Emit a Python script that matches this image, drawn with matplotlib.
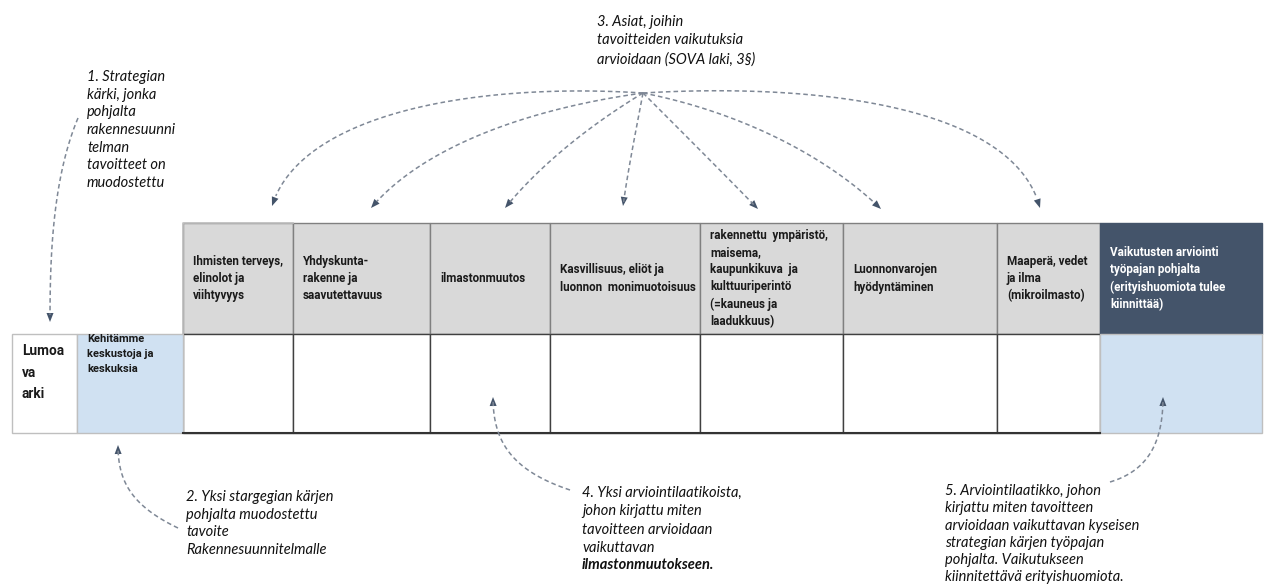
import matplotlib.pyplot as plt
from matplotlib.patches import Rectangle, Polygon
import numpy as np
from math import comb

# --- content ---
header_labels = [
    "Ihmisten terveys,\nelinolot ja\nviihtyvyys",
    "Yhdyskunta-\nrakenne ja\nsaavutettavuus",
    "ilmastonmuutos",
    "Kasvillisuus, eliöt ja\nluonnon  monimuotoisuus",
    "rakennettu  ympäristö,\nmaisema,\nkaupunkikuva  ja\nkulttuuriperintö\n(=kauneus ja\nlaadukkuus)",
    "Luonnonvarojen\nhyödyntäminen",
    "Maaperä, vedet\nja ilma\n(mikroilmasto)",
    "Vaikutusten arviointi\ntyöpajan pohjalta\n(erityishuomiota tulee\nkiinnittää)",
]
col_edges = [183, 293, 430, 550, 700, 843, 997, 1100, 1262]
left_edges = [12, 77, 183]
strategy_label = "Lumoa\nva\narki"
goal_label = "Kehitämme\nkeskustoja ja\nkeskuksia"

note1 = "1. Strategian\nkärki, jonka\npohjalta\nrakennesuunni\ntelman\ntavoitteet on\nmuodostettu"
note2 = "2. Yksi stargegian kärjen\npohjalta muodostettu\ntavoite\nRakennesuunnitelmalle"
note3 = "3. Asiat, joihin\ntavoitteiden vaikutuksia\narvioidaan (SOVA laki, 3§)"
note4 = "4. Yksi arviointilaatikoista,\njohon kirjattu miten\ntavoitteen arvioidaan\nvaikuttavan"
note4_bold = "ilmastonmuutokseen."
note5 = ("5. Arviointilaatikko, johon\nkirjattu miten tavoitteen\narvioidaan vaikuttavan kyseisen\n"
         "strategian kärjen työpajan\npohjalta. Vaikutukseen\nkiinnitettävä erityishuomiota.")

# fan of arrows from note 3 to the header columns
fan_start = (643, 93)
fan_ends = [(272, 206), (371, 208), (505, 208), (623, 206), (758, 209), (881, 209), (1040, 208)]
fan_ctrl = [[(470, 82), (300, 115)], [(520, 110), (420, 150)], [(590, 125), (540, 165)],
            [(636, 130), (628, 170)], [(680, 130), (720, 170)], [(730, 110), (820, 150)],
            [(830, 82), (1015, 110)]]

top, mid, bottom = 223, 334, 433
gray = "#d9d9d9"
navy = "#44546a"
light_blue = "#d0e1f2"
line_col = "#7f8896"

hdr_font = ["Roboto", "DejaVu Sans"]
note_font = ["Lato", "DejaVu Sans"]

fig = plt.figure(figsize=(12.64, 5.87), dpi=100)
ax = fig.add_axes([0, 0, 1, 1])
ax.set_xlim(0, 1264)
ax.set_ylim(587, 0)
ax.set_axis_off()

# header row + body row
for i, lab in enumerate(header_labels):
    x0, x1 = col_edges[i], col_edges[i + 1]
    last = i == len(header_labels) - 1
    ax.add_patch(Rectangle((x0, top), x1 - x0, mid - top,
                           facecolor=navy if last else gray,
                           edgecolor=navy if last else "#808080", lw=1))
    ax.text(x0 + 10, (top + mid) / 2, lab, ha="left", va="center",
            fontsize=8.4, fontweight="bold", family=hdr_font, linespacing=1.42,
            color="white" if last else "#1a1a1a")
    ax.add_patch(Rectangle((x0, mid), x1 - x0, bottom - mid,
                           facecolor=light_blue if last else "white",
                           edgecolor="#bfbfbf" if last else "#404040", lw=1))
ax.plot([col_edges[0], col_edges[-2]], [bottom, bottom], color="#333333", lw=1.5)
# lighter outline on the first header cell
ax.plot([col_edges[0], col_edges[0], col_edges[1]], [mid, top, top], color="#bfbfbf", lw=1.2)

# left cells
ax.add_patch(Rectangle((left_edges[0], mid), left_edges[1] - left_edges[0], bottom - mid,
                       facecolor="white", edgecolor="#bfbfbf", lw=1))
ax.add_patch(Rectangle((left_edges[1], mid), left_edges[2] - left_edges[1], bottom - mid,
                       facecolor=light_blue, edgecolor="#bfbfbf", lw=1))
ax.text(left_edges[0] + 10, 344, strategy_label, ha="left", va="top", fontsize=9.8,
        fontweight="bold", family=hdr_font, linespacing=1.7, color="#1a1a1a")
ax.text(left_edges[1] + 10, 334, goal_label, ha="left", va="top", fontsize=8.0,
        fontweight="bold", family=hdr_font, linespacing=1.6, color="#1a1a1a")

# notes
note_kw = dict(ha="left", va="top", fontsize=10.5, style="italic", family=note_font,
               color="#111111", linespacing=1.33)
ax.text(87, 70, note1, **note_kw)
ax.text(597, 15, note3, **dict(note_kw, linespacing=1.4))
ax.text(186, 490, note2, **note_kw)
ax.text(582, 486, note4, **dict(note_kw, linespacing=1.4))
ax.text(582, 558, note4_bold, **dict(note_kw, fontweight="bold"))
ax.text(945, 484, note5, **dict(note_kw, linespacing=1.3))


def bezier(pts, n=80):
    pts = np.array(pts, float)
    t = np.linspace(0, 1, n)[:, None]
    k = len(pts) - 1
    return sum(comb(k, j) * (1 - t) ** (k - j) * t ** j * pts[j] for j in range(k + 1))


def dashed_arrow(points, head=9, width=7):
    curve = bezier(points)
    d = curve[-1] - curve[-4]
    d = d / np.hypot(*d)
    tip = curve[-1]
    base = tip - d * head
    nrm = np.array([-d[1], d[0]])
    ax.plot(curve[:-3, 0], curve[:-3, 1], color=line_col, lw=1.1, ls=(0, (3, 2)))
    ax.add_patch(Polygon([tip, base + nrm * width / 2, base - nrm * width / 2],
                         closed=True, facecolor=navy, edgecolor="none"))


for end, ctrl in zip(fan_ends, fan_ctrl):
    dashed_arrow([fan_start] + ctrl + [end])

dashed_arrow([(78, 118), (52, 180), (50, 260), (50, 322)])
dashed_arrow([(178, 528), (130, 505), (118, 480), (118, 445)])
dashed_arrow([(570, 490), (510, 470), (493, 440), (493, 397)])
dashed_arrow([(1110, 482), (1150, 470), (1163, 440), (1163, 397)])

fig.savefig("out.png", dpi=100)
